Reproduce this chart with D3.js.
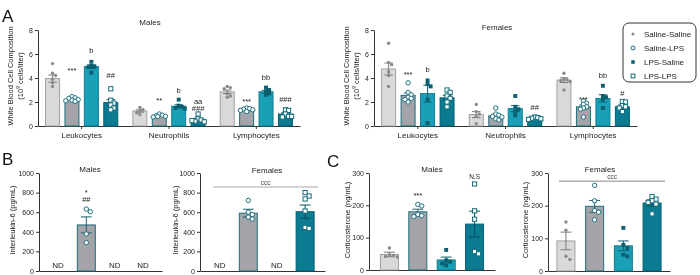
<!DOCTYPE html>
<html lang="en">
<head>
<meta charset="UTF-8">
<title>Blood panels</title>
<style>
  body { margin: 0; background: #fff; }
  svg { display: block; font-family: "Liberation Sans", Arial, sans-serif; will-change: transform; }
</style>
</head>
<body>
<script src="https://cdn.jsdelivr.net/npm/d3@7"></script>
<script>
const conditions = ["Saline-Saline", "Saline-LPS", "LPS-Saline", "LPS-LPS"];
const cellTypes = ["Leukocytes", "Neutrophils", "Lymphocytes"];
const wbcTicks = [0, 2, 4, 6, 8];
const il6Ticks = [0, 200, 400, 600, 800, 1000];
const cortTicks = [0, 100, 200, 300];

// A - white blood cells, one row per cell type, columns follow conditions
const wbcMaleMeans = [[3.95, 2.2, 4.95, 1.95], [1.25, 0.85, 1.65, 0.55], [2.85, 1.35, 2.85, 1.0]];
const wbcMaleSem = [[0.3, 0.06, 0.15, 0.25], [0.1, 0.04, 0.12, 0.1], [0.15, 0.05, 0.12, 0.1]];
const wbcMalePoints = [
  [[5.2, 4.4, 4.2, 3.9, 3.6, 3.3], [2.45, 2.35, 2.3, 2.2, 2.15, 2.1, 2.05], [5.35, 5.0, 4.95, 4.9, 4.45], [3.1, 2.15, 1.9, 1.75, 1.5, 1.35]],
  [[1.55, 1.35, 1.25, 1.1, 0.95], [1.0, 0.9, 0.85, 0.8, 0.75, 0.8], [2.2, 1.7, 1.6, 1.5, 1.45], [1.0, 0.6, 0.5, 0.4, 0.35, 0.45]],
  [[3.3, 3.2, 3.1, 2.7, 2.4, 2.5], [1.5, 1.45, 1.4, 1.35, 1.3, 1.2], [3.2, 3.0, 2.9, 2.7, 2.6], [1.35, 1.3, 1.0, 0.8, 0.75, 0.8]]
];
// [cell type, condition, text, level]
const wbcMaleMarks = [
  [0, 1, "***", 4.8], [0, 2, "b", 6.33], [0, 3, "##", 4.17],
  [1, 1, "**", 2.3], [1, 2, "b", 3.0], [1, 3, "aa", 2.08], [1, 3, "###", 1.42],
  [2, 1, "***", 2.22], [2, 2, "bb", 4.03], [2, 3, "###", 2.17]
];

const wbcFemaleMeans = [[4.75, 2.55, 2.7, 2.35], [0.95, 0.85, 1.45, 0.65], [3.82, 1.6, 2.3, 1.6]];
const wbcFemaleSem = [[0.5, 0.2, 0.7, 0.2], [0.25, 0.12, 0.25, 0.05], [0.2, 0.15, 0.3, 0.15]];
const wbcFemalePoints = [
  [[6.9, 5.3, 5.1, 4.5, 4.2, 3.3], [3.6, 2.8, 2.6, 2.4, 2.3, 2.2, 2.0], [3.8, 3.5, 3.3, 2.2, 0.25], [3.0, 2.8, 2.5, 2.3, 2.0, 1.6]],
  [[1.8, 1.2, 1.0, 0.8, 0.2], [1.5, 1.0, 0.9, 0.8, 0.75, 0.6, 0.5], [2.5, 1.6, 1.4, 1.2, 0.9], [0.75, 0.7, 0.65, 0.6, 0.55]],
  [[4.4, 3.95, 3.85, 3.8, 3.7, 3.0], [2.1, 1.9, 1.8, 1.6, 1.5, 1.4, 0.75], [3.35, 2.5, 2.4, 2.2, 1.5], [2.05, 2.0, 1.7, 1.6, 1.5, 1.2]]
];
const wbcFemaleMarks = [
  [0, 1, "***", 4.5], [0, 2, "b", 4.67], [1, 3, "##", 1.58],
  [2, 1, "***", 2.4], [2, 2, "bb", 4.17], [2, 3, "#", 2.72]
];

// B - interleukin-6 (null = ND)
const il6MaleMeans = [null, 470, null, null];
const il6MaleSem = [null, 82, null, null];
const il6MalePoints = [[], [632, 605, 378, 289], [], []];
const il6MaleMarks = [[0, 1, "*", 830], [0, 1, "##", 725]];

const il6FemaleMeans = [null, 590, null, 605];
const il6FemaleSem = [null, 40, null, 68];
const il6FemalePoints = [[], [720, 600, 575, 550, 530], [], [800, 765, 735, 612, 445, 435]];

// C - corticosterone
const cortMaleMeans = [48, 180, 31, 142];
const cortMaleSem = [7, 8, 9, 40];
const cortMalePoints = [[68, 47, 45, 42, 40], [203, 198, 172, 168, 165], [62, 30, 26, 20, 14], [266, 183, 157, 57, 50]];
const cortMaleMarks = [[0, 1, "***", 238], [0, 3, "N.S", 289]];

const cortFemaleMeans = [92, 198, 77, 208];
const cortFemaleSem = [27, 18, 15, 10];
const cortFemalePoints = [[150, 125, 45, 35], [262, 215, 185, 180, 157], [132, 80, 70, 50, 45], [228, 220, 215, 210, 205, 175]];

const fills = ["#d9d9d9", "#a4a4a8", "#19a0b6", "#0b7b92"];
const strokes = ["#a0a0a0", "#1e6f7f", "#117c90", "#085f70"];
const errColors = ["#7a7a7a", "#1b5f6d", "#0d6273", "#064e5c"];

const svg = d3.select("body").append("svg")
  .attr("width", 700)
  .attr("height", 275);

function marker(g, k, x, y, s) {
  if (k === 0) {
    g.append("circle").attr("cx", x).attr("cy", y).attr("r", 1.7 * s).attr("fill", "#8a8a8a");
  } else if (k === 1) {
    g.append("circle").attr("cx", x).attr("cy", y).attr("r", 2.2 * s)
      .attr("fill", "#fff").attr("stroke", "#1d6f80").attr("stroke-width", 1);
  } else if (k === 2) {
    const a = 3.9 * s;
    g.append("rect").attr("x", x - a / 2).attr("y", y - a / 2).attr("width", a).attr("height", a)
      .attr("fill", "#0d5f70");
  } else {
    const a = 4.2 * s;
    g.append("rect").attr("x", x - a / 2).attr("y", y - a / 2).attr("width", a).attr("height", a)
      .attr("fill", "#fff").attr("stroke", "#136b7c").attr("stroke-width", 1);
  }
}

// simple beeswarm: spread points that overlap in y
function swarm(ys, step) {
  const placed = [];
  return ys.map(py => {
    let off = 0;
    for (const k of [0, 1, -1, 2, -2, 1.5, -1.5, 0.5, -0.5]) {
      off = k * step;
      if (!placed.some(p => Math.abs(p[0] - off) < step * 0.9 && Math.abs(p[1] - py) < 3.5)) break;
    }
    placed.push([off, py]);
    return off;
  });
}

function panel(o) {
  const x0 = d3.scaleBand(o.groups, o.xRange);
  const x1 = d3.scalePoint(conditions, [0, x0.bandwidth()]).padding(o.pad);
  const y = d3.scaleLinear(o.yDomain, o.yRange);
  const g = svg.append("g");

  const ya = g.append("g")
    .attr("transform", `translate(${o.xRange[0]},0)`)
    .call(d3.axisLeft(y).tickValues(o.ticks).tickFormat(d3.format("d"))
      .tickSize(3).tickSizeOuter(0).tickPadding(2));
  ya.selectAll("text").attr("font-size", 7).attr("fill", "#222");

  const xa = g.append("g")
    .attr("transform", `translate(0,${o.yRange[0]})`)
    .call(d3.axisBottom(x0).tickSize(o.groups.length > 1 ? 3 : 0).tickSizeOuter(0).tickPadding(3));
  xa.selectAll("text").attr("font-size", 8).attr("fill", "#222");
  g.selectAll(".domain, .tick line").attr("stroke", "#333");

  o.groups.forEach((grp, gi) => {
    conditions.forEach((c, ci) => {
      const m = o.means[gi][ci];
      const cx = x0(grp) + x1(c);
      if (m == null) {
        g.append("text").attr("x", cx).attr("y", y(0) - 6)
          .attr("text-anchor", "middle").attr("dominant-baseline", "central")
          .attr("font-size", 8).attr("fill", "#222").text("ND");
        return;
      }
      g.append("rect")
        .attr("x", cx - o.barW / 2).attr("y", y(m))
        .attr("width", o.barW).attr("height", y(0) - y(m))
        .attr("fill", fills[ci]).attr("stroke", strokes[ci]).attr("stroke-width", 1);

      const e = o.sem[gi][ci];
      const cap = o.barW * 0.3;
      const eg = g.append("g").attr("stroke", errColors[ci]).attr("stroke-width", 1);
      eg.append("line").attr("x1", cx).attr("x2", cx).attr("y1", y(m - e)).attr("y2", y(m + e));
      [m - e, m + e].forEach(v => {
        eg.append("line").attr("x1", cx - cap).attr("x2", cx + cap).attr("y1", y(v)).attr("y2", y(v));
      });

      const pts = o.points[gi][ci];
      const offs = swarm(pts.map(v => y(v)), o.barW * 0.22);
      pts.forEach((v, i) => marker(g, ci, cx + offs[i], y(v), 1));
    });
  });

  (o.marks || []).forEach(([gi, ci, t, lvl]) => {
    const cx = x0(o.groups[gi]) + x1(conditions[ci]);
    g.append("text")
      .attr("x", cx).attr("y", y(lvl) + (t.startsWith("*") ? 2.5 : 0))
      .attr("text-anchor", "middle").attr("dominant-baseline", "central")
      .attr("font-size", t === "N.S" ? 6.5 : 7.5).attr("fill", "#222").text(t);
  });

  if (o.bracket) {
    const b = o.bracket;
    const xs = x0(o.groups[0]) + x1(conditions[0]) - o.barW / 2 + 2;
    const xe = x0(o.groups[0]) + x1(conditions[3]) + o.barW / 2 + 4;
    g.append("line").attr("x1", xs).attr("x2", xe).attr("y1", y(b.level)).attr("y2", y(b.level))
      .attr("stroke", b.color).attr("stroke-width", b.width);
    g.append("text").attr("x", (xs + xe) / 2).attr("y", y(b.level) - 5)
      .attr("text-anchor", "middle").attr("dominant-baseline", "central")
      .attr("font-size", 6.5).attr("fill", "#444").text("ccc");
  }

  g.append("text").attr("x", o.title[1]).attr("y", o.title[2])
    .attr("text-anchor", "middle").attr("dominant-baseline", "central")
    .attr("font-size", 8).attr("fill", "#222").text(o.title[0]);

  const yl = g.append("text")
    .attr("transform", `translate(${o.ylab[0]},${o.ylab[1]}) rotate(-90)`)
    .attr("text-anchor", "middle").attr("font-size", 7.5).attr("fill", "#222");
  if (o.ylabSup) {
    yl.append("tspan").attr("x", 0).attr("dy", 0).text("White Blood Cell Composition");
    const l2 = yl.append("tspan").attr("x", 0).attr("dy", 9.5);
    l2.append("tspan").text("(10");
    l2.append("tspan").attr("font-size", 5).attr("dy", -3).text("9");
    l2.append("tspan").attr("dy", 3).text(" cells/liter)");
  } else {
    yl.attr("dominant-baseline", "central").text(o.ylab[2]);
  }
}

panel({
  groups: cellTypes, xRange: [38, 300], pad: 0.75, barW: 14,
  yDomain: [0, 8], yRange: [126, 30], ticks: wbcTicks,
  means: wbcMaleMeans, sem: wbcMaleSem, points: wbcMalePoints, marks: wbcMaleMarks,
  title: ["Males", 150, 22], ylab: [13, 76], ylabSup: true
});
panel({
  groups: cellTypes, xRange: [374, 637], pad: 0.75, barW: 14,
  yDomain: [0, 8], yRange: [126, 30], ticks: wbcTicks,
  means: wbcFemaleMeans, sem: wbcFemaleSem, points: wbcFemalePoints, marks: wbcFemaleMarks,
  title: ["Females", 497, 27], ylab: [349, 76], ylabSup: true
});
panel({
  groups: [""], xRange: [39, 162], pad: 0.67, barW: 18,
  yDomain: [0, 1000], yRange: [271, 173], ticks: il6Ticks,
  means: [il6MaleMeans], sem: [il6MaleSem], points: [il6MalePoints], marks: il6MaleMarks,
  title: ["Males", 90, 169], ylab: [12, 220, "Interleukin-6 (pg/mL)"]
});
panel({
  groups: [""], xRange: [200, 325], pad: 0.7, barW: 18,
  yDomain: [0, 1000], yRange: [271, 173], ticks: il6Ticks,
  means: [il6FemaleMeans], sem: [il6FemaleSem], points: [il6FemalePoints],
  bracket: { level: 857, color: "#c4c4c4", width: 1.5 },
  title: ["Females", 267, 170], ylab: [175, 220, "Interleukin-6 (pg/mL)"]
});
panel({
  groups: [""], xRange: [369, 495], pad: 0.72, barW: 18,
  yDomain: [0, 300], yRange: [270, 173], ticks: cortTicks,
  means: [cortMaleMeans], sem: [cortMaleSem], points: [cortMalePoints], marks: cortMaleMarks,
  title: ["Males", 432, 169], ylab: [347, 220, "Corticosterone (ng/mL)"]
});
panel({
  groups: [""], xRange: [548, 670], pad: 0.625, barW: 18,
  yDomain: [0, 300], yRange: [271, 173], ticks: cortTicks,
  means: [cortFemaleMeans], sem: [cortFemaleSem], points: [cortFemalePoints],
  bracket: { level: 275, color: "#666", width: 0.8 },
  title: ["Females", 600, 169], ylab: [525, 220, "Corticosterone (ng/mL)"]
});

// panel letters
[["A", 2, 22], ["B", 2, 165], ["C", 327, 167]].forEach(([t, x, yy]) => {
  svg.append("text").attr("x", x).attr("y", yy).attr("font-size", 17).attr("fill", "#111").text(t);
});

// legend
const lg = svg.append("g").attr("transform", "translate(623,23)");
lg.append("rect").attr("width", 73).attr("height", 59).attr("rx", 6)
  .attr("fill", "#fff").attr("stroke", "#333").attr("stroke-width", 1);
conditions.forEach((c, i) => {
  const yy = 11 + i * 14;
  marker(lg, i, 10, yy, 0.9);
  lg.append("text").attr("x", 21).attr("y", yy).attr("dominant-baseline", "central")
    .attr("font-size", 8).attr("fill", "#222").text(c);
});
</script>
</body>
</html>
